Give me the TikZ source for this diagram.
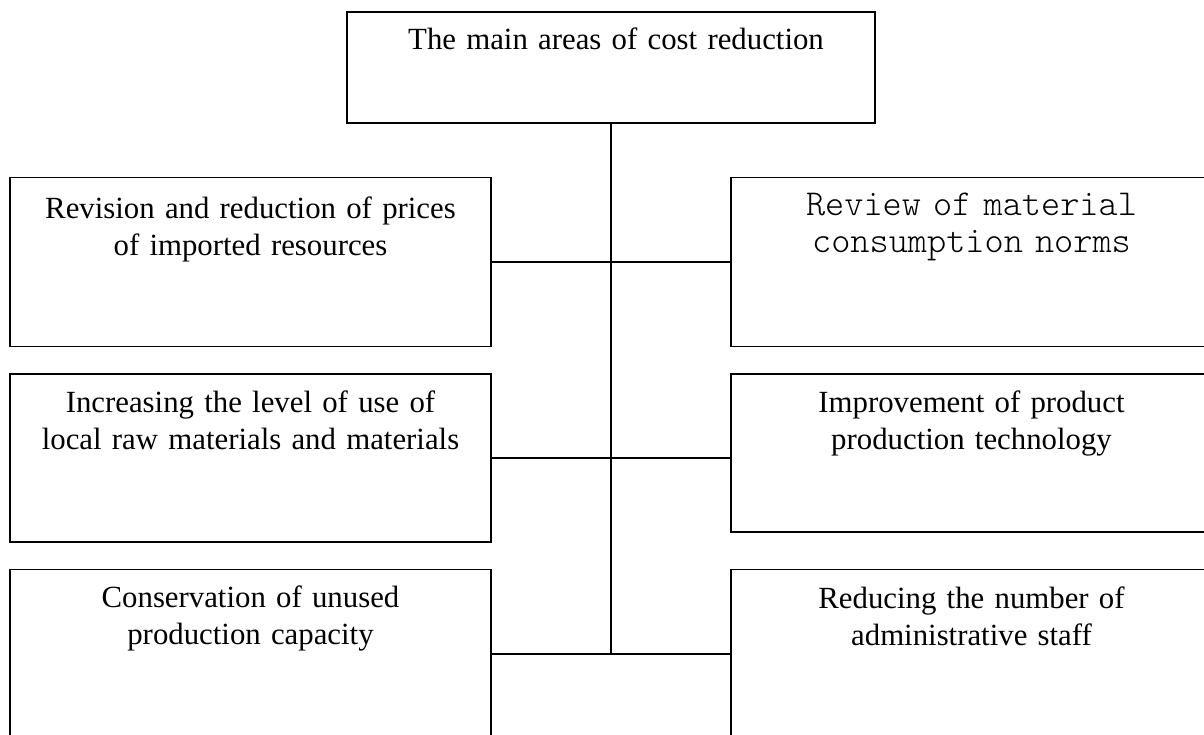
\documentclass[tikz,border=0pt]{standalone}
\usepackage{fontspec}
\setmainfont{Liberation Serif}
\setmonofont{Latin Modern Mono Light}
\tikzset{
  box/.style={shape=rectangle,draw=black,line width=1.8pt,minimum width=481pt,inner sep=0pt},
  lbl/.style={text width=470pt,align=center,anchor=base,inner sep=0pt,font=\fontsize{30.8}{37}\selectfont},
  conn/.style={-,line width=2pt}
}
\begin{document}
\begin{tikzpicture}[x=1pt,y=-1pt]
            \useasboundingbox (0,0) rectangle (1204,734);
            % boxes
            \node[box,minimum width=528pt,minimum height=111pt] (top) at (611,67.5) {};
            \node[box,minimum height=169pt] (l1) at (250.5,262) {};
            \node[box,minimum height=168pt] (l2) at (250.5,458) {};
            \node[box,minimum height=169pt] (l3) at (250.5,654) {};
            \node[box,minimum height=169pt] (r1) at (971.5,262) {};
            \node[box,minimum height=158pt] (r2) at (971.5,453) {};
            \node[box,minimum height=169pt] (r3) at (971.5,654) {};

            % texts
            \node[lbl,xshift=5pt] (ttop) at ([yshift=-38pt]top.north) {The main areas of cost reduction};
            \node[lbl] (tl1) at ([yshift=-42pt]l1.north) {Revision and reduction of prices\\of imported resources};
            \node[lbl] (tl2) at ([yshift=-39pt]l2.north) {Increasing the level of use of\\local raw materials and materials};
            \node[lbl] (tl3) at ([yshift=-39pt]l3.north) {Conservation of unused\\production capacity};
            \node[lbl,font=\ttfamily\fontsize{36.5}{37}\selectfont] (tr1) at ([yshift=-39pt]r1.north) {Review of material\\consumption norms};
            \node[lbl] (tr2) at ([yshift=-39pt]r2.north) {Improvement of product\\production technology};
            \node[lbl] (tr3) at ([yshift=-40pt]r3.north) {Reducing the number of\\administrative staff};

            % edges
            \coordinate (j3) at (top.south |- l3.east);
            \draw [conn](top) -- (j3);
            \draw [conn](l1) -- (r1);
            \draw [conn](l2) -- (l2.east -| r2.west);
            \draw [conn](l3) -- (r3);
        \end{tikzpicture}
\end{document}
